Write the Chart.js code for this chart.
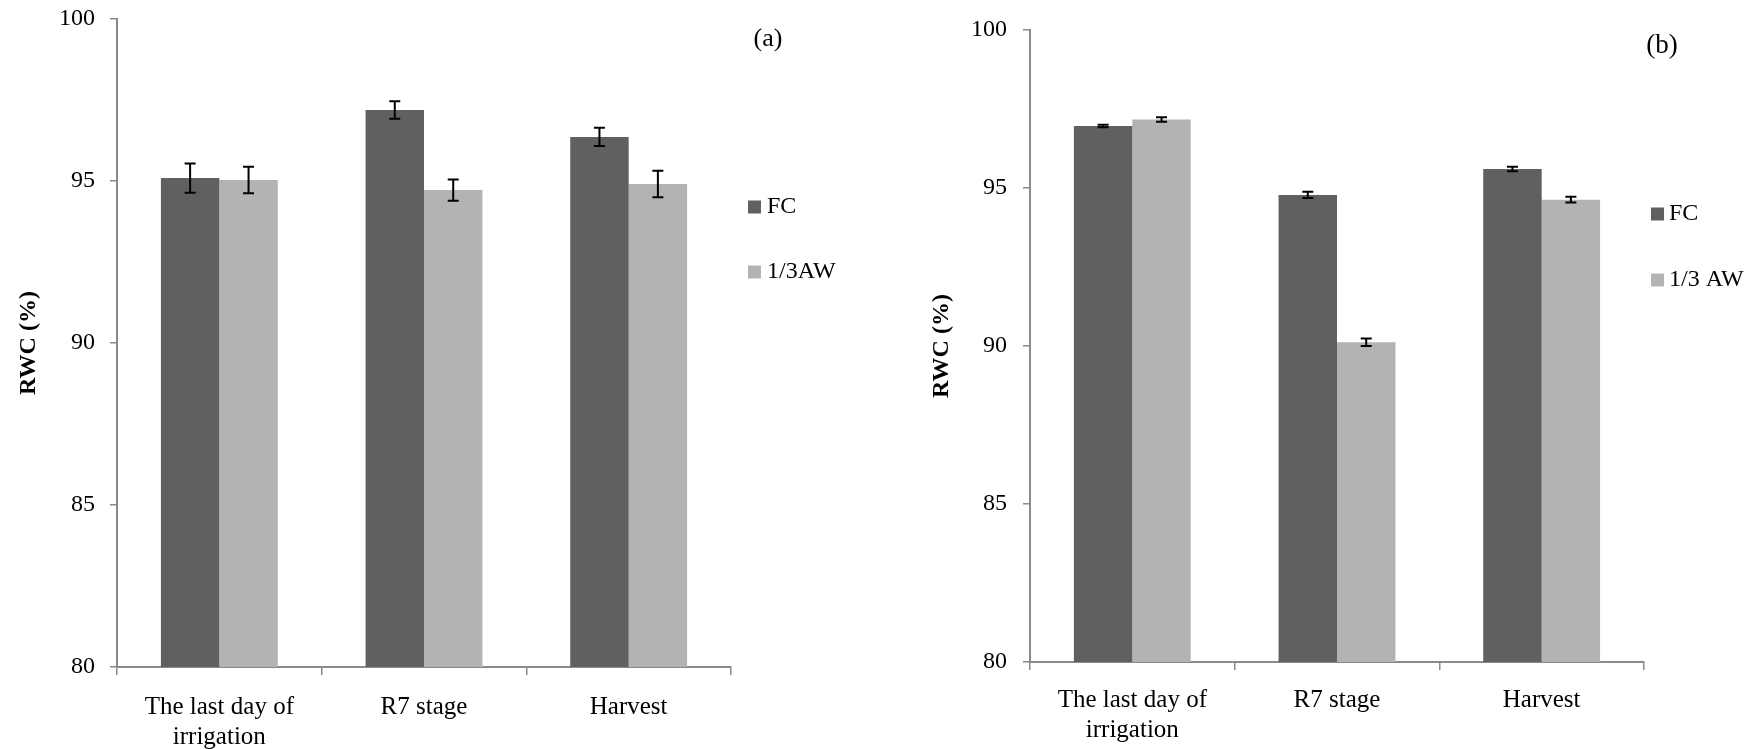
<!DOCTYPE html>
<html><head><meta charset="utf-8">
<script src="https://cdn.jsdelivr.net/npm/chart.js@4.4.1/dist/chart.umd.min.js"></script>
<style>
html,body{margin:0;padding:0;background:#fff;}
#wrap{position:relative;width:1752px;height:749px;overflow:hidden;background:#fff;}
canvas{position:absolute;top:0;}
</style></head><body>
<div id="wrap">
<canvas id="ca" width="876" height="749" style="left:0px"></canvas>
<canvas id="cb" width="876" height="749" style="left:876px"></canvas>
</div>
<script>
// ---- data ----
const categories = [['The last day of', 'irrigation'], 'R7 stage', 'Harvest'];
const seriesNamesA = ['FC', '1/3AW'];
const seriesNamesB = ['FC', '1/3 AW'];
const fcA    = [95.09, 97.19, 96.36];
const fcErrA = [0.45, 0.27, 0.28];
const awA    = [95.03, 94.72, 94.91];
const awErrA = [0.41, 0.33, 0.41];
const fcB    = [96.96, 94.78, 95.60];
const fcErrB = [0.04, 0.10, 0.07];
const awB    = [97.17, 90.12, 94.63];
const awErrB = [0.07, 0.12, 0.09];
const yMin = 80, yMax = 100, yStep = 5;
const yTitle = 'RWC (%)';
const panelTags = ['(a)', '(b)'];

const FONT = "'Liberation Serif', 'Times New Roman', serif";
Chart.defaults.font.family = FONT;
Chart.defaults.color = '#000';
const AXIS = '#8a8a8a';

const errorBars = {
  id: 'errorBars',
  afterDatasetsDraw(chart, args, opts) {
    const ctx = chart.ctx, y = chart.scales.y;
    chart.data.datasets.forEach((ds, di) => {
      const meta = chart.getDatasetMeta(di);
      meta.data.forEach((bar, i) => {
        const v = ds.data[i], e = ds.errors[i];
        const yt = y.getPixelForValue(v + e), yb = y.getPixelForValue(v - e);
        ctx.save();
        ctx.strokeStyle = '#000'; ctx.lineWidth = 2;
        ctx.beginPath();
        ctx.moveTo(bar.x, yt); ctx.lineTo(bar.x, yb);
        ctx.moveTo(bar.x - opts.cap, yt); ctx.lineTo(bar.x + opts.cap, yt);
        ctx.moveTo(bar.x - opts.cap, yb); ctx.lineTo(bar.x + opts.cap, yb);
        ctx.stroke();
        ctx.restore();
      });
    });
  }
};

const sideLegend = {
  id: 'sideLegend',
  afterDraw(chart, args, opts) {
    const ctx = chart.ctx;
    ctx.save();
    ctx.textBaseline = 'middle'; ctx.textAlign = 'left';
    ctx.font = opts.fontSize + 'px ' + FONT;
    chart.data.datasets.forEach((ds, i) => {
      const cy = opts.y + i * opts.gap;
      ctx.fillStyle = ds.backgroundColor;
      ctx.fillRect(opts.x, cy - opts.box / 2, opts.box, opts.box);
      ctx.fillStyle = '#000';
      ctx.fillText(ds.label, opts.x + opts.box + opts.textGap, cy);
    });
    ctx.font = opts.tagSize + 'px ' + FONT;
    ctx.textAlign = 'center';
    ctx.fillText(opts.tag, opts.tagX, opts.tagY);
    ctx.restore();
  }
};

function makeChart(id, names, fc, fcErr, aw, awErr, g) {
  return new Chart(document.getElementById(id), {
    type: 'bar',
    data: {
      labels: categories,
      datasets: [
        { label: names[0], data: fc, errors: fcErr, backgroundColor: '#606060', borderWidth: 0 },
        { label: names[1], data: aw, errors: awErr, backgroundColor: '#b3b3b3', borderWidth: 0 }
      ]
    },
    options: {
      responsive: false, animation: false, devicePixelRatio: 1,
      layout: { padding: { top: g.top, right: g.right, bottom: 0, left: 0 } },
      plugins: {
        legend: { display: false }, tooltip: { enabled: false },
        errorBars: { cap: 5.5 },
        sideLegend: g.legend
      },
      datasets: { bar: { categoryPercentage: 0.571, barPercentage: 1.0 } },
      scales: {
        x: {
          grid: { display: true, offset: true, drawOnChartArea: false, drawTicks: true, tickLength: 8, color: AXIS, lineWidth: 1.5 },
          border: { display: true, color: AXIS, width: 2 },
          ticks: { font: { size: 25, lineHeight: 1.2 }, padding: g.xPad, color: '#000', maxRotation: 0, autoSkip: false },
          afterFit(s) { s.height = g.xHeight; s.paddingLeft = 0; s.paddingRight = 0; }
        },
        y: {
          min: yMin, max: yMax,
          grid: { display: true, drawOnChartArea: false, drawTicks: true, tickLength: 7, color: AXIS, lineWidth: 1.5 },
          border: { display: true, color: AXIS, width: 2 },
          ticks: { stepSize: yStep, font: { size: 24 }, padding: g.yPad, color: '#000' },
          title: { display: true, text: yTitle, font: { size: 24, weight: 'bold', lineHeight: 1.2 }, color: '#000', padding: { top: g.titlePad, bottom: 0 } },
          afterFit(s) { s.width = g.yWidth; s.paddingTop = 0; s.paddingBottom = 0; }
        }
      }
    },
    plugins: [errorBars, sideLegend]
  });
}

makeChart('ca', seriesNamesA, fcA, fcErrA, awA, awErrA, {
  top: 19, right: 145, yWidth: 117, xHeight: 82, xPad: 17, yPad: 15, titlePad: 14,
  legend: { x: 748, y: 207, gap: 65, box: 13, textGap: 6, fontSize: 24, tag: panelTags[0], tagX: 768, tagY: 39, tagSize: 26 }
});
makeChart('cb', seriesNamesB, fcB, fcErrB, awB, awErrB, {
  top: 30, right: 108, yWidth: 154, xHeight: 87, xPad: 15, yPad: 16, titlePad: 51,
  legend: { x: 775, y: 214, gap: 66, box: 13, textGap: 5, fontSize: 24, tag: panelTags[1], tagX: 786, tagY: 46, tagSize: 27 }
});
</script>
</body></html>
